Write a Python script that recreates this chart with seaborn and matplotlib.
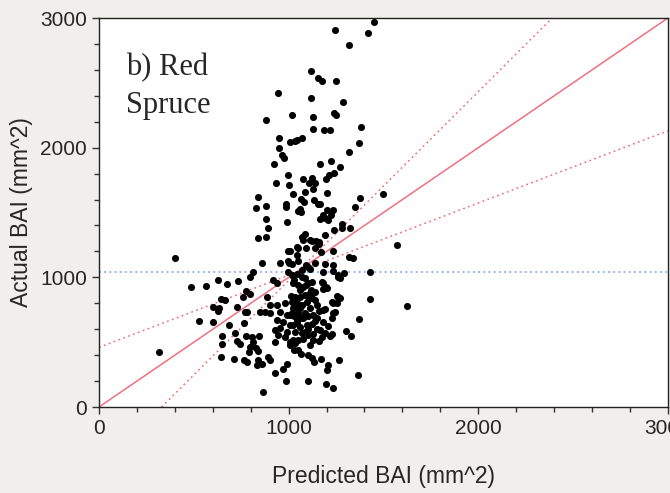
import numpy as np
import pandas as pd
import matplotlib
matplotlib.use("Agg")
import matplotlib.pyplot as plt
import seaborn as sns

# Predicted vs actual BAI (mm^2)
pred_bai = [
    1449, 1244, 1418, 1318, 1117, 1154, 1175, 1249, 1117, 1286, 1017, 1128, 1238, 1249, 1381, 1128, 1186, 1217, 1370, 1007, 1043, 1070,
    943, 880, 949, 1032,
    949, 964, 975, 922, 996, 933, 1001, 1022, 838, 827, 880, 986, 986, 1049, 880, 991, 891, 838, 880, 996, 1043, 400, 859, 954, 996, 1001,
    1318, 1165, 1223, 1270, 1075, 1122, 1107, 1138, 1196, 1238, 1212, 1086, 1128, 1202, 1065, 1080, 1133, 1154, 1165, 1497, 1375, 1349,
    1059, 1065, 1202, 1233, 1180, 1223, 1165, 1191, 1207, 1281, 1323, 1281, 1238, 1086, 1070, 1075, 1112, 1122, 1144, 1159, 1191, 1049,
    1091, 1138, 1159, 1170, 1233, 1570, 1318, 1339, 1191, 1233, 1138, 1007, 1043,
    812, 996, 485, 564, 627, 675, 733, 796, 643, 664, 775, 796, 759, 601, 632, 627, 728, 770, 780, 527, 601, 685, 764, 717, 648, 648, 643,
    712, 728, 743, 775, 806, 843, 812, 796, 827, 838, 791, 764, 780, 838, 859, 891, 901, 833, 928, 970, 991, 986, 864, 928,
    885, 917, 938, 901, 938, 980, 1022, 1043, 849, 875, 901, 954, 991, 1017, 1049, 938, 970, 1007, 1043, 928, 954, 991, 1033, 1007, 1033,
    1049, 943, 980,
    1428, 1428, 1623, 1370, 1302, 1328, 1265, 1365, 1101, 1196, 1233, 1207, 1202, 1065, 1101, 1122, 1133, 1170, 1028, 1022, 1112, 1128,
    1159, 1175, 1191, 1217, 1228, 1165, 1128, 1086, 1207, 1180, 1228, 1233, 1244, 1191, 1180, 1228, 1233, 1254, 1270, 1260, 1270, 1233,
    1180, 1202, 1180, 1196, 1175, 1180,
    1017, 1043, 1070, 1086, 1022, 1049, 1075, 1101, 1122, 1138, 1112, 1086, 1059, 1033, 1017, 1043, 1070, 1096, 1122, 1138, 1022, 1007,
    1049, 1086, 1112, 1128, 1149, 1043, 1075, 1022, 1059, 1096, 1122, 1070, 1101, 1049, 1075, 1007, 1101,
    1017, 1049, 1070, 1091, 1112, 1260, 1291, 1260, 1254, 316,
    1030, 1060, 1090, 1110, 1150, 1160, 1140, 1100, 1060, 1030, 1060, 1150, 1100, 1010, 1120,
]
actual_bai = [
    2968, 2907, 2884, 2792, 2592, 2538, 2515, 2515, 2384, 2353, 2253, 2238, 2269, 2253, 2161, 2146, 2138, 2138, 2038, 2046, 2061, 2077,
    2422, 2215, 2077, 2053,
    2000, 1946, 1923, 1876, 1792, 1730, 1715, 1646, 1623, 1538, 1553, 1569, 1546, 1515, 1453, 1430, 1377, 1300, 1315, 1207, 1238, 1146, 1107, 1107, 1123, 1107,
    1969, 1876, 1900, 1853, 1761, 1769, 1730, 1730, 1761, 1807, 1792, 1661, 1684, 1653, 1607, 1584, 1600, 1569, 1569, 1646, 1615, 1546,
    1530, 1507, 1523, 1523, 1484, 1484, 1453, 1461, 1446, 1415, 1384, 1377, 1369, 1338, 1315, 1292, 1292, 1277, 1284, 1269, 1330, 1230,
    1223, 1230, 1254, 1192, 1207, 1246, 1154, 1146, 1100, 1092, 1107, 1207, 1169,
    1038, 1038, 923, 931, 977, 946, 969, 1000, 831, 823, 892, 869, 846, 769, 762, 738, 769, 731, 731, 661, 654, 631, 646, 569, 546, 485, 385,
    369, 508, 485, 546, 538, 546, 500, 461, 454, 431, 423, 361, 346, 361, 331, 385, 361, 323, 261, 292, 331, 200, 115, 500,
    846, 977, 954, 785, 785, 800, 823, 762, 731, 731, 723, 731, 708, 723, 708, 669, 654, 631, 646, 592, 608, 577, 577, 500, 492,
    438, 554, 538,
    1038, 831, 777, 677, 585, 546, 361, 246, 200, 177, 146, 323, 285, 408, 400, 377, 346, 369, 438, 515, 477, 515,
    508, 538, 569, 546, 561, 592, 561, 577, 623, 654, 685, 723, 731, 754, 746, 808, 800, 854, 838, 1000, 992, 1046,
    1038, 915, 908, 923, 962, 954,
    1015, 1023, 1000, 992, 954, 938, 923, 954, 962, 885, 877, 862, 846, 846, 808, 800, 785, 808, 838, 823, 762, 708,
    723, 723, 762, 708, 685, 669, 685, 631, 615, 631, 638, 569, 554, 515, 523, 477, 1077,
    1100, 1123, 1060, 1092, 1062, 1015, 1031, 846, 800, 423,
    980, 900, 940, 840, 790, 740, 660, 700, 760, 700, 690, 600, 600, 860, 900,
]

# fit lines (end points)
diag_x = [0, 3000]
diag_y = [0, 3000]
upper_x = [0, 3000]
upper_y = [460, 2130]
lower_x = [330, 2390]
lower_y = [0, 3000]
mean_actual = 1040

df = pd.DataFrame({"pred": pred_bai, "actual": actual_bai})

sns.set_style("ticks")
plt.rcParams["font.family"] = ["Liberation Sans", "DejaVu Sans"]

fig = plt.figure(figsize=(6.7, 4.93), dpi=100, facecolor="#f0efeb")
ax = fig.add_axes([0.1478, 0.1744, 0.849, 0.789])
ax.set_facecolor("white")

red = "#f07080"
ax.axhline(mean_actual, color="#7b9cf0", lw=1.1, ls=(0, (1.2, 2.2)))
sns.lineplot(x=diag_x, y=diag_y, ax=ax, color=red, lw=1.1)
sns.lineplot(x=upper_x, y=upper_y, ax=ax, color=red, lw=1.1, linestyle=(0, (1.2, 2.2)))
sns.lineplot(x=lower_x, y=lower_y, ax=ax, color=red, lw=1.1, linestyle=(0, (1.2, 2.2)))
sns.scatterplot(data=df, x="pred", y="actual", ax=ax, color="black", s=26,
                linewidth=0, zorder=5)

ax.set_xlim(0, 3000)
ax.set_ylim(0, 3000)
ax.set_xticks([0, 1000, 2000, 3000])
ax.set_yticks([0, 1000, 2000, 3000])
ax.set_xticks(np.arange(0, 3001, 200), minor=True)
ax.set_yticks(np.arange(0, 3001, 200), minor=True)
ax.tick_params(which="major", length=5, width=1, labelsize=15, color="#333333")
ax.tick_params(which="minor", length=3.5, width=1, color="#333333")
for s in ax.spines.values():
    s.set_visible(True)
    s.set_color("#222222")
    s.set_linewidth(1)

ax.set_xlabel("Predicted BAI (mm^2)", fontsize=16.5)
ax.set_ylabel("Actual BAI (mm^2)", fontsize=16.5)
ax.xaxis.set_label_coords(0.5, -0.148)
ax.yaxis.set_label_coords(-0.116, 0.5)

ax.text(0.047, 0.91, "b) Red\nSpruce", transform=ax.transAxes, ha="left", va="top",
        fontsize=22, family="Liberation Serif", linespacing=1.4)

fig.savefig("out.png", dpi=100, facecolor=fig.get_facecolor())
